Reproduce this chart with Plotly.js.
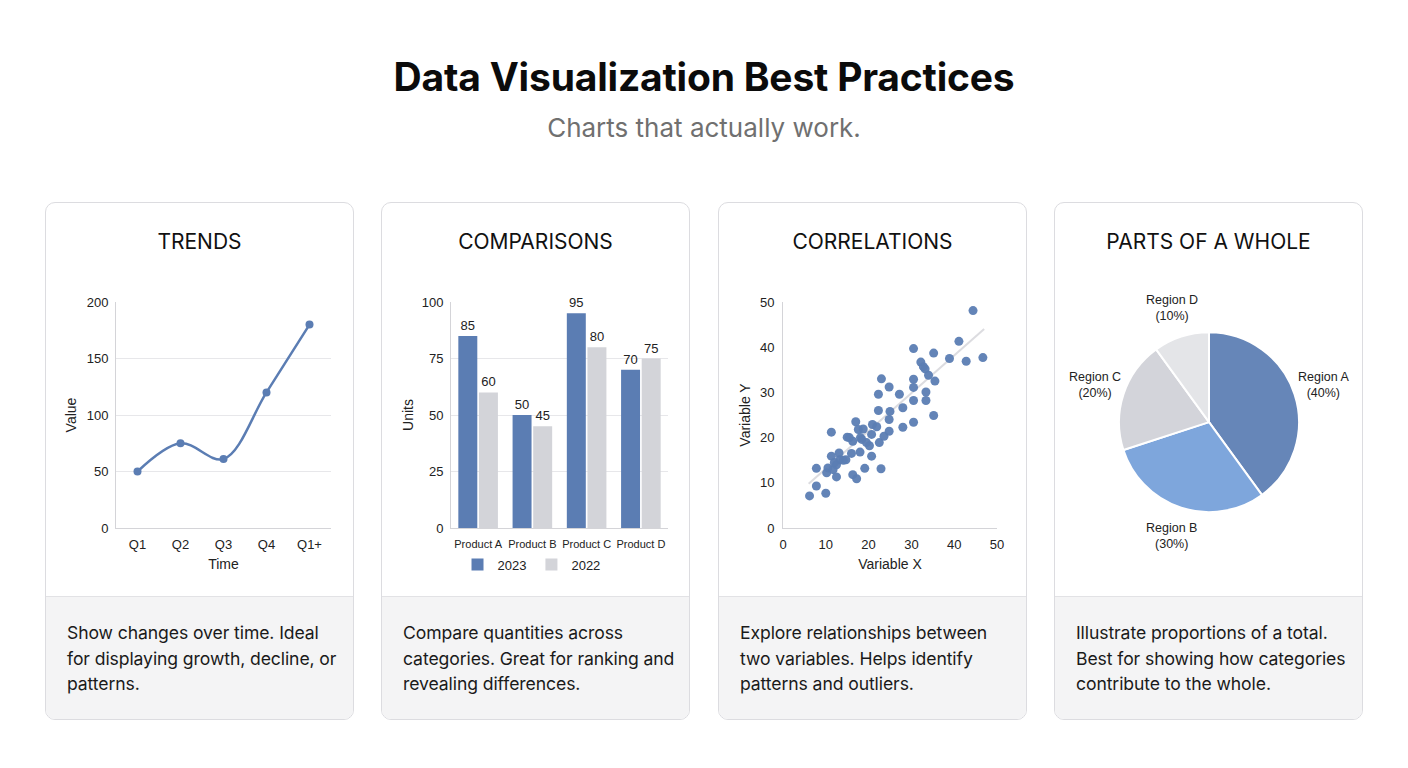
<!DOCTYPE html>
<html>
<head>
<meta charset="utf-8">
<script src="https://cdn.plot.ly/plotly-3.0.1.min.js"></script>
<style>
  html, body { margin: 0; padding: 0; background: #ffffff; }
  body { width: 1408px; height: 768px; position: relative; font-family: Inter, "Noto Sans", sans-serif; overflow: hidden; }
  .title { position: absolute; top: 53px; left: 0; width: 1408px; text-align: center; font-size: 39px; font-weight: 700; color: #0b0b0b; letter-spacing: -0.2px; line-height: 48px; }
  .subtitle { position: absolute; top: 111px; left: 0; width: 1408px; text-align: center; font-size: 26px; color: #707070; line-height: 34px; }
  .card { position: absolute; top: 202px; width: 309px; height: 518px; box-sizing: border-box; border: 1px solid #dcdce0; border-radius: 10px; background: #fff; overflow: hidden; }
  .card .head { position: absolute; top: 26px; left: 0; width: 100%; text-align: center; font-size: 21px; color: #111; line-height: 26px; }
  .card .plot { position: absolute; top: 70px; left: 0; width: 307px; height: 318px; }
  .card .foot { position: absolute; top: 393px; left: 0; right: 0; bottom: 0; background: #f4f4f5; border-top: 1px solid #e2e2e5; padding: 23px 6px 0 21px; font-size: 17.6px; line-height: 25.5px; color: #1a1a1a; white-space: nowrap; letter-spacing: -0.1px; }
</style>
</head>
<body>
<div class="title">Data Visualization Best Practices</div>
<div class="subtitle">Charts that actually work.</div>

<div class="card" style="left:45px">
  <div class="head">TRENDS</div>
  <div class="plot" id="trends"></div>
  <div class="foot">Show changes over time. Ideal<br>for displaying growth, decline, or<br>patterns.</div>
</div>
<div class="card" style="left:381px">
  <div class="head">COMPARISONS</div>
  <div class="plot" id="comparisons"></div>
  <div class="foot">Compare quantities across<br>categories. Great for ranking and<br>revealing differences.</div>
</div>
<div class="card" style="left:718px">
  <div class="head">CORRELATIONS</div>
  <div class="plot" id="correlations"></div>
  <div class="foot">Explore relationships between<br>two variables. Helps identify<br>patterns and outliers.</div>
</div>
<div class="card" style="left:1054px">
  <div class="head">PARTS OF A WHOLE</div>
  <div class="plot" id="parts"></div>
  <div class="foot">Illustrate proportions of a total.<br>Best for showing how categories<br>contribute to the whole.</div>
</div>

<script>
// Trends
const quarters = ['Q1', 'Q2', 'Q3', 'Q4', 'Q1+'];
const trendValues = [50, 75, 61, 120, 180];

// Comparisons
const products = ['Product A', 'Product B', 'Product C', 'Product D'];
const units2023 = [85, 50, 95, 70];
const units2022 = [60, 45, 80, 75];

// Correlations
const varX = [6.2, 7.8, 7.8, 10.0, 10.2, 10.5, 11.3, 11.3, 11.7, 12.5, 12.5, 13.1, 13.3, 14.1, 14.7,
  15.0, 15.5, 16.3, 16.0, 16.3, 17.2, 17.0, 17.6, 18.0, 18.4, 18.75, 19.1, 19.5, 20.2, 20.7,
  20.9, 20.7, 21.9, 22.3, 22.3, 22.5, 22.9, 23.0, 23.6, 24.8, 24.8, 25.0, 24.8, 27.2, 28.0,
  28.0, 30.5, 30.5, 30.5, 30.5, 30.5, 32.2, 32.8, 33.2, 33.4, 33.4, 34.0, 35.2, 35.2, 35.5,
  38.9, 41.1, 42.8, 44.4, 46.7, 18.1, 12.0];
const varY = [7.1, 9.3, 13.2, 7.7, 12.2, 13.3, 21.2, 15.9, 12.9, 11.3, 14.0, 16.6, 15.1, 15.0, 15.1,
  20.1, 20.0, 19.2, 16.5, 11.8, 10.9, 23.5, 21.8, 16.8, 19.6, 21.9, 13.2, 18.9, 18.2, 20.7,
  22.9, 15.9, 22.4, 29.6, 26.0, 18.9, 13.1, 33.0, 20.3, 21.4, 24.0, 25.8, 31.2, 29.6, 26.6,
  22.3, 39.7, 32.9, 31.1, 28.2, 23.4, 36.7, 35.7, 35.2, 30.1, 28.2, 33.8, 38.7, 24.9, 32.5,
  37.5, 41.3, 36.9, 48.1, 37.7, 20.0, 14.5];
const fitX = [6, 47];
const fitY = [9.8, 44];

// Parts of a whole
const regions = ['Region A', 'Region B', 'Region C', 'Region D'];
const shares = [40, 30, 20, 10];

const blue = '#5b7db3';
const grey = '#d3d4d9';
const chartFamily = '"Liberation Sans", Arial, sans-serif';
const tickFont = { family: chartFamily, size: 13, color: '#222' };
const titleFont = { family: chartFamily, size: 14, color: '#222' };
const config = { displayModeBar: false, staticPlot: true };

function baseAxis(extra) {
  return Object.assign({
    showline: true, linecolor: '#d4d4d8', linewidth: 1,
    gridcolor: '#e7e7ea', zeroline: false, ticks: '',
    tickfont: tickFont, fixedrange: true
  }, extra);
}

Plotly.newPlot('trends', [{
  x: quarters, y: trendValues, type: 'scatter', mode: 'lines+markers',
  line: { color: blue, width: 2.5, shape: 'spline', smoothing: 1 },
  marker: { color: blue, size: 8 }
}], {
  width: 307, height: 318,
  margin: { l: 70, r: 22, t: 29, b: 63 },
  paper_bgcolor: 'rgba(0,0,0,0)', plot_bgcolor: 'rgba(0,0,0,0)',
  showlegend: false,
  xaxis: baseAxis({ showgrid: false, range: [-0.5, 4.5], ticklabelstandoff: 4, title: { text: 'Time', font: titleFont, standoff: 8 } }),
  yaxis: baseAxis({ range: [0, 200], dtick: 50, ticklabelstandoff: 4, title: { text: 'Value', font: titleFont, standoff: 6 } })
}, config);

Plotly.newPlot('comparisons', [
  { x: products, y: units2023, name: '2023', type: 'bar', marker: { color: blue },
    text: units2023.map(String), textposition: 'outside', cliponaxis: false,
    textfont: { family: chartFamily, size: 13, color: '#222' } },
  { x: products, y: units2022, name: '2022', type: 'bar', marker: { color: grey },
    text: units2022.map(String), textposition: 'outside', cliponaxis: false,
    textfont: { family: chartFamily, size: 13, color: '#222' } }
], {
  width: 307, height: 318,
  margin: { l: 69, r: 21, t: 29, b: 63 },
  paper_bgcolor: 'rgba(0,0,0,0)', plot_bgcolor: 'rgba(0,0,0,0)',
  barmode: 'group', bargap: 0.24, bargroupgap: 0.08,
  showlegend: true,
  legend: { orientation: 'h', xref: 'container', yref: 'container', x: 0.487, xanchor: 'center', y: 0.13, yanchor: 'top',
    itemwidth: 30, font: { family: chartFamily, size: 13, color: '#222' } },
  xaxis: baseAxis({ showgrid: false, tickangle: 0, ticklabelstandoff: 6,
    tickfont: { family: chartFamily, size: 11, color: '#222' } }),
  yaxis: baseAxis({ range: [0, 100], dtick: 25, ticklabelstandoff: 4, title: { text: 'Units', font: titleFont, standoff: 4 } })
}, config);

Plotly.newPlot('correlations', [
  { x: fitX, y: fitY, type: 'scatter', mode: 'lines', line: { color: '#dcdce0', width: 2 }, hoverinfo: 'skip' },
  { x: varX, y: varY, type: 'scatter', mode: 'markers', marker: { color: blue, size: 9, opacity: 0.95 } }
], {
  width: 307, height: 318,
  margin: { l: 64, r: 29, t: 29, b: 63 },
  paper_bgcolor: 'rgba(0,0,0,0)', plot_bgcolor: 'rgba(0,0,0,0)',
  showlegend: false,
  xaxis: baseAxis({ showgrid: false, range: [0, 50], dtick: 10, ticklabelstandoff: 4, title: { text: 'Variable X', font: titleFont, standoff: 8 } }),
  yaxis: baseAxis({ showgrid: false, range: [0, 50], dtick: 10, ticklabelstandoff: 5, title: { text: 'Variable Y', font: titleFont, standoff: 6 } })
}, config);

// pie labels sit just outside each slice, at the slice's middle angle
const pieW = 307, pieH = 318;
const pieCx = 0.5016, pieCy = 0.5314, labelR = 120;
const total = shares.reduce((a, b) => a + b, 0);
let acc = 0;
const pieLabels = regions.map((name, i) => {
  const mid = (acc + shares[i] / 2) / total * 2 * Math.PI;
  acc += shares[i];
  return {
    xref: 'paper', yref: 'paper', showarrow: false,
    x: pieCx + labelR * Math.sin(mid) / pieW,
    y: pieCy + labelR * Math.cos(mid) / pieH,
    xanchor: 'center', yanchor: 'middle',
    text: name + '<br>(' + Math.round(shares[i] / total * 100) + '%)',
    font: { family: chartFamily, size: 12.5, color: '#222' }
  };
});

Plotly.newPlot('parts', [{
  labels: regions, values: shares, type: 'pie', sort: false, direction: 'clockwise', rotation: 0,
  domain: { x: [0.2085, 0.7948], y: [0.248, 0.814] },
  marker: { colors: ['#6686b8', '#7ea6dc', '#d3d4da', '#e4e5e8'], line: { color: '#ffffff', width: 2 } },
  textinfo: 'none', automargin: false, showlegend: false
}], {
  width: pieW, height: pieH,
  margin: { l: 0, r: 0, t: 0, b: 0 },
  paper_bgcolor: 'rgba(0,0,0,0)',
  showlegend: false,
  annotations: pieLabels
}, config);
</script>
</body>
</html>
